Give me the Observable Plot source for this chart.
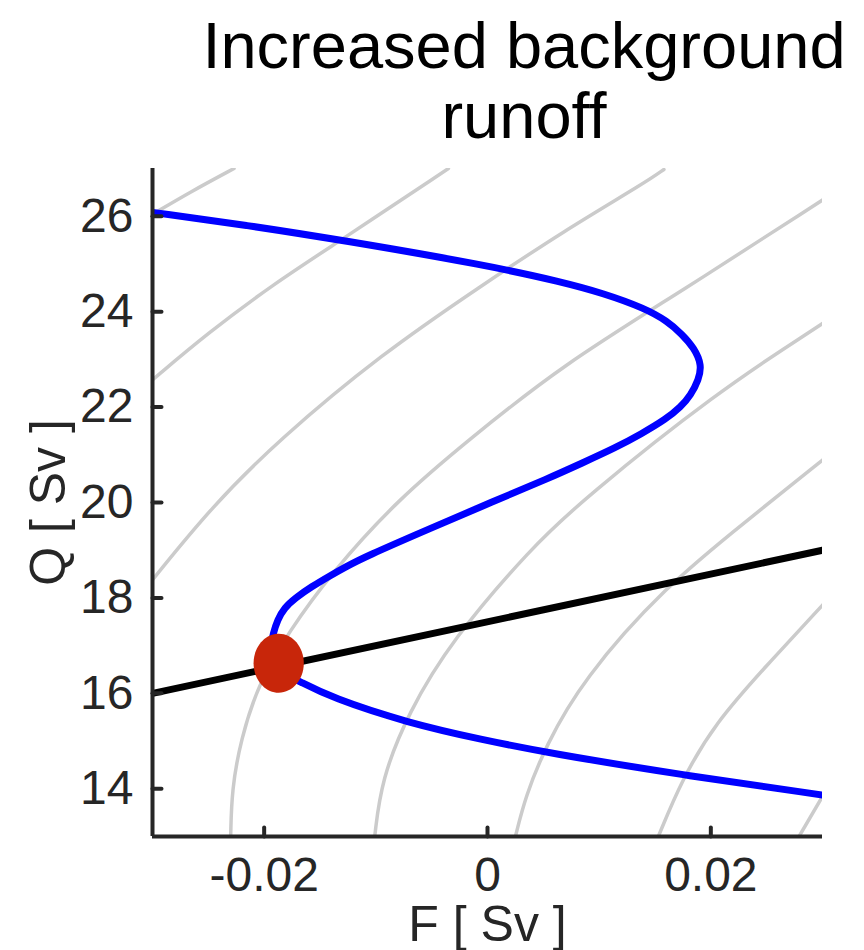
<!DOCTYPE html>
<html>
<head>
<meta charset="utf-8">
<script src="https://cdn.jsdelivr.net/npm/d3@7"></script>
<script src="https://cdn.jsdelivr.net/npm/@observablehq/plot@0.6"></script>
<style>
  html, body { margin: 0; padding: 0; background: #ffffff; }
  body { width: 864px; height: 950px; overflow: hidden; font-family: "Liberation Sans", "Helvetica Neue", Helvetica, Arial, sans-serif; }
  #title { width: 1048px; height: 150px; box-sizing: border-box; padding-top: 11px; text-align: center;
           font-size: 65px; line-height: 70px; color: #000; white-space: nowrap; }
  #chart svg { display: block; }
</style>
</head>
<body>
<div id="title">Increased background<br>runoff</div>
<div id="chart"></div>
<script>
// ---- Data ----
const xLabel = "F [ Sv ]";
const yLabel = "Q [ Sv ]";
const xDomain = [-0.03, 0.03];
const yDomain = [13, 27];
const xTicks = [-0.02, 0, 0.02];
const xTickLabels = ["-0.02", "0", "0.02"];
const yTicks = [14, 16, 18, 20, 22, 24, 26];
const yTickLabels = ["14", "16", "18", "20", "22", "24", "26"];

// S-shaped equilibrium curve (blue), ordered along the curve
const blueF = [-0.0300, -0.0215, -0.0131, 0.0000, 0.0067, 0.0103, 0.0141, 0.0161, 0.0174, 0.0185, 0.0192, 0.0189, 0.0182, 0.0173, 0.0160, 0.0138, 0.0114, 0.0085, 0.0055, 0.0004, -0.0050, -0.0110, -0.0127, -0.0140, -0.0158, -0.0172, -0.0182, -0.0188, -0.0192, -0.0194, -0.0194, -0.0190, -0.0182, -0.0169, -0.0140, -0.0071, -0.0005, 0.0055, 0.0174, 0.0300];
const blueQ = [26.08, 25.81, 25.50, 24.97, 24.62, 24.39, 24.07, 23.80, 23.53, 23.24, 22.88, 22.57, 22.25, 22.00, 21.75, 21.44, 21.14, 20.83, 20.51, 20.01, 19.47, 18.86, 18.65, 18.48, 18.23, 18.00, 17.79, 17.54, 17.25, 17.00, 16.81, 16.58, 16.41, 16.26, 15.91, 15.38, 15.03, 14.75, 14.29, 13.87];

// Straight black line
const blackF = [-0.03, 0.03];
const blackQ = [16.0, 19.0];

// Red equilibrium point
const dotF = [-0.0187];
const dotQ = [16.63];

// Light gray background curves, [F, Q] pairs
const grayA = [[-0.0300, 26.04], [-0.0266, 26.51], [-0.0227, 27.00]];
const grayB = [[-0.0300, 22.57], [-0.0251, 23.54], [-0.0191, 24.59], [-0.0131, 25.50], [-0.0035, 27.00]];
const grayC = [[-0.0300, 18.38], [-0.0247, 19.91], [-0.0187, 21.31], [-0.0095, 23.11], [-0.0005, 24.55], [0.0067, 25.67], [0.0143, 26.73], [0.0158, 26.98]];
const grayD = [[-0.0230, 13.00], [-0.0229, 13.98], [-0.0221, 15.03], [-0.0205, 16.21], [-0.0178, 17.29], [-0.0140, 18.52], [-0.0080, 20.07], [-0.0017, 21.31], [0.0067, 22.88], [0.0174, 24.43], [0.0300, 26.34]];
const grayE = [[-0.0101, 13.00], [-0.0095, 14.19], [-0.0071, 15.59], [-0.0032, 17.12], [0.0040, 19.07], [0.0085, 20.05], [0.0204, 22.29], [0.0300, 23.75]];
const grayF = [[0.0025, 13.00], [0.0034, 13.84], [0.0052, 14.89], [0.0085, 16.28], [0.0159, 18.24], [0.0234, 19.65], [0.0300, 20.89]];
const grayG = [[0.0153, 13.00], [0.0174, 14.19], [0.0204, 15.38], [0.0249, 16.56], [0.0300, 17.85]];
const grayH = [[0.0279, 13.00], [0.0300, 13.84]];

// ---- Tables built from the arrays ----
const grayRows = [["A", grayA], ["B", grayB], ["C", grayC], ["D", grayD], ["E", grayE], ["F", grayF], ["G", grayG], ["H", grayH]]
  .flatMap(([id, pts]) => pts.map(([F, Q]) => ({id, F, Q})));
const blueRows = blueF.map((F, i) => ({F, Q: blueQ[i]}));
const blackRows = blackF.map((F, i) => ({F, Q: blackQ[i]}));
const dotRows = dotF.map((F, i) => ({F, Q: dotQ[i]}));

const axisColor = "#262626";
const fontFamily = '"Liberation Sans", "Helvetica Neue", Helvetica, Arial, sans-serif';

// custom shapes
const tickShape = { draw(ctx, l) { ctx.moveTo(0, 0); ctx.lineTo(0, -l); } };
const ellipseSymbol = {
  draw(ctx, size) {
    const r = Math.sqrt(size / Math.PI);
    const rx = r * 0.93, ry = r * 1.09, k = 0.5523;
    ctx.moveTo(rx, 0);
    ctx.bezierCurveTo(rx, k * ry, k * rx, ry, 0, ry);
    ctx.bezierCurveTo(-k * rx, ry, -rx, k * ry, -rx, 0);
    ctx.bezierCurveTo(-rx, -k * ry, -k * rx, -ry, 0, -ry);
    ctx.bezierCurveTo(k * rx, -ry, rx, -k * ry, rx, 0);
    ctx.closePath();
  }
};

const chart = Plot.plot({
  width: 864,
  height: 800,
  marginTop: 18,
  marginBottom: 114,
  marginLeft: 152,
  marginRight: 42,
  style: { fontFamily, fontSize: "48px", color: axisColor, background: "#ffffff", overflow: "visible" },
  x: { domain: xDomain },
  y: { domain: yDomain },
  marks: [
    Plot.line(grayRows, { x: "F", y: "Q", z: "id", stroke: "#cbcbcb", strokeWidth: 3.5, curve: "basis", clip: true }),
    Plot.line(blackRows, { x: "F", y: "Q", stroke: "#000000", strokeWidth: 7, clip: true }),
    Plot.line(blueRows, { x: "F", y: "Q", stroke: "#0000ff", strokeWidth: 7, curve: "basis", clip: true }),
    Plot.dot(dotRows, { x: "F", y: "Q", r: 27, symbol: ellipseSymbol, fill: "#c8260a", stroke: "none" }),
    // axis lines
    Plot.ruleX([xDomain[0]], { stroke: axisColor, strokeWidth: 4 }),
    Plot.ruleY([yDomain[0]], { stroke: axisColor, strokeWidth: 4 }),
    // inward tick marks
    Plot.vector(xTicks, { x: d => d, frameAnchor: "bottom", length: 9, rotate: 0, anchor: "start", shape: tickShape, stroke: axisColor, strokeWidth: 4 }),
    Plot.vector(yTicks, { y: d => d, frameAnchor: "left", length: 9, rotate: 90, anchor: "start", shape: tickShape, stroke: axisColor, strokeWidth: 4 }),
    // tick labels
    Plot.axisX(xTicks, { tickSize: 0, tickPadding: 20, tickFormat: d => xTickLabels[xTicks.indexOf(d)], label: null, fill: axisColor }),
    Plot.axisY(yTicks, { tickSize: 0, tickPadding: 19, tickFormat: d => yTickLabels[yTicks.indexOf(d)], label: null, fill: axisColor }),
    // axis titles
    Plot.text([xLabel], { text: d => d, frameAnchor: "bottom", lineAnchor: "middle", textAnchor: "middle", dy: 88, fontSize: 50, fill: axisColor }),
    Plot.text([yLabel], { text: d => d, frameAnchor: "left", lineAnchor: "middle", textAnchor: "middle", dx: -104, rotate: -90, fontSize: 50, fill: axisColor })
  ]
});
document.getElementById("chart").appendChild(chart);
</script>
</body>
</html>
